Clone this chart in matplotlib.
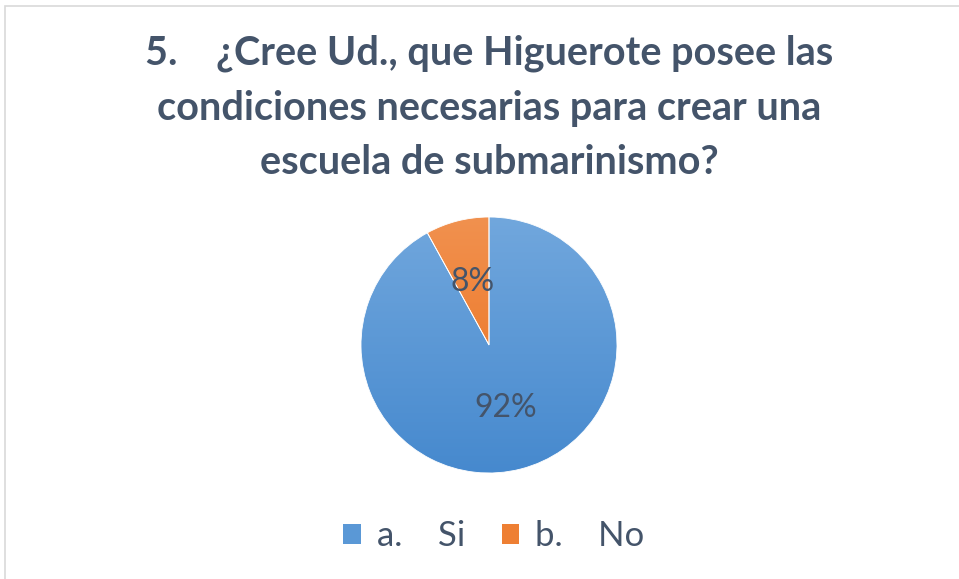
import numpy as np
import matplotlib
matplotlib.use("Agg")
import matplotlib.pyplot as plt
from matplotlib.patches import Rectangle, Patch
from matplotlib.colors import LinearSegmentedColormap

# data
labels = ["a.    Si", "b.    No"]
values = [92, 8]
pct_text = ["92%", "8%"]
top_colors = ["#71A7DD", "#F1914F"]
bottom_colors = ["#4689CE", "#EB6D17"]
title = "5.    ¿Cree Ud., que Higuerote posee las\ncondiciones necesarias para crear una\nescuela de submarinismo?"

plt.rcParams['font.family'] = ['Lato', 'DejaVu Sans']
text_color = "#44546A"

W, H = 959, 579
fig = plt.figure(figsize=(W / 100, H / 100), dpi=100)
fig.patch.set_facecolor("white")

# light frame (chart area border, cut at the right/bottom)
fig.add_artist(Rectangle((5 / W, -0.1), 1.2, 1 - 6 / H + 0.1, transform=fig.transFigure,
                         fill=False, edgecolor="#D9D9D9", linewidth=1.2))

fig.text(489 / W, 1 - 108 / H, title, ha="center", va="center", fontsize=28.5,
         fontweight="bold", color=text_color, linespacing=1.58)

# pie axes: center (489,345), radius 128 px
r = 128
ax = fig.add_axes([(489 - r) / W, 1 - (345 + r) / H, 2 * r / W, 2 * r / H])
wedges, _ = ax.pie(values, startangle=90, counterclock=False, radius=1,
                   wedgeprops=dict(linewidth=0.6, edgecolor="white"))
ax.set_xlim(-1, 1)
ax.set_ylim(-1, 1)
ax.set_aspect("equal")

# vertical gradient fill clipped to each wedge
grad = np.linspace(0, 1, 256).reshape(-1, 1)
for w, c0, c1 in zip(wedges, top_colors, bottom_colors):
    cmap = LinearSegmentedColormap.from_list("g", [c0, c1])
    im = ax.imshow(grad, cmap=cmap, extent=[-1, 1, -1, 1], origin="upper",
                   aspect="auto", zorder=1)
    im.set_clip_path(w)
    w.set_facecolor("none")
    w.set_zorder(2)

# percentage labels
theta0 = 90
for v, t in zip(values, pct_text):
    mid = np.deg2rad(theta0 - v / sum(values) * 360 / 2)
    ax.text(0.51 * np.cos(mid), 0.51 * np.sin(mid), t, ha="center", va="center",
            fontsize=23, color=text_color, zorder=3)
    theta0 -= v / sum(values) * 360

handles = [Patch(facecolor=c, edgecolor="none") for c in ["#5A98D6", "#EE7F33"]]
fig.legend(handles, labels, loc="center", bbox_to_anchor=(494 / W, 1 - 536 / H),
           ncol=2, frameon=False, fontsize=25, labelcolor=text_color,
           handlelength=0.5, handleheight=0.5, handletextpad=0.47, columnspacing=1.05)

fig.savefig("out.png", dpi=100)
